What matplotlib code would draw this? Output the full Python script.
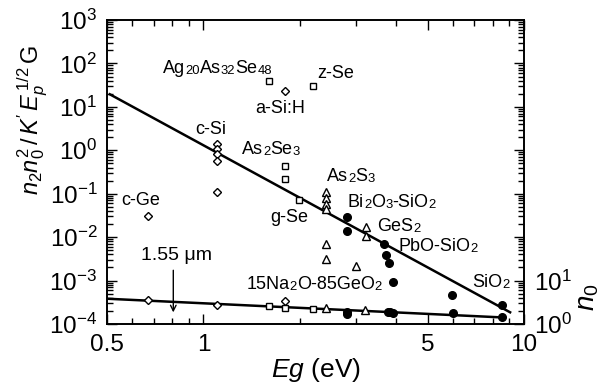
import re
import numpy as np
import matplotlib
matplotlib.use('Agg')
import matplotlib.pyplot as plt
from matplotlib.ticker import (LogLocator, NullFormatter, FixedLocator,
                               FixedFormatter, FuncFormatter)

# n2 n0^2 / K' Ep^1/2 G  (left axis)
diamond_eg = [0.67, 1.10, 1.10, 1.10, 1.10, 1.10, 1.80]
diamond_val = [0.031, 1.37, 1.05, 0.80, 0.57, 0.108, 23]
square_eg = [1.60, 1.80, 1.80, 1.99, 2.19]
square_val = [39, 0.44, 0.22, 0.072, 31]
triangle_eg = [2.41, 2.41, 2.41, 2.41, 2.41, 2.41, 3.00, 3.21, 3.21]
triangle_val = [0.11, 0.080, 0.058, 0.0445, 0.0070, 0.0031, 0.0022, 0.0169, 0.0106]
circle_eg = [2.81, 2.81, 3.67, 3.71, 3.80, 3.91, 5.97, 8.52]
circle_val = [0.0286, 0.0139, 0.0068, 0.0039, 0.0026, 0.00093, 0.00047, 0.00027]
fit_eg = [0.51, 9.05]
fit_val = [19.5, 1.86e-4]

# n0 (right axis)
n0_diamond_eg = [0.67, 1.10, 1.79]
n0_diamond = [3.66, 2.74, 3.44]
n0_square_eg = [1.60, 1.79, 2.19]
n0_square = [2.64, 2.30, 2.21]
n0_triangle_eg = [2.41, 3.19]
n0_triangle = [2.35, 2.10]
n0_circle_eg = [2.80, 2.80, 3.77, 3.82, 3.91, 5.99, 8.54]
n0_circle = [1.92, 1.70, 1.86, 1.86, 1.76, 1.82, 1.43]
n0_fit_eg = [0.5, 8.67]
n0_fit = [3.82, 1.41]

# material labels: (text, Eg, value) -- "_n" marks a small digit run
labels = [
    ('c-Ge', 0.553, 0.055),
    ('c-Si', 0.941, 2.37),
    ('Ag_20As_32Se_48', 0.748, 60),
    ('a-Si:H', 1.448, 7.2),
    ('z-Se', 2.26, 46),
    ('As_2Se_3', 1.32, 0.82),
    ('g-Se', 1.62, 0.0223),
    ('As_2S_3', 2.43, 0.196),
    ('Bi_2O_3-SiO_2', 2.82, 0.0494),
    ('GeS_2', 3.48, 0.0139),
    ('PbO-SiO_2', 4.05, 0.0048),
    ('SiO_2', 6.89, 0.00071),
    ('15Na_2O-85GeO_2', 1.36, 0.00064),
]

plt.rcParams['font.family'] = ['Liberation Sans', 'DejaVu Sans']
plt.rcParams['mathtext.fontset'] = 'custom'
plt.rcParams['mathtext.rm'] = 'Liberation Sans'
plt.rcParams['mathtext.it'] = 'Liberation Sans:italic'
plt.rcParams['axes.unicode_minus'] = False


def formula(ax, x, y, s, size=13):
    """write a chemical formula with smaller digits sitting on the baseline"""
    parts = re.split(r'_(\d+)', s)
    t = ax.text(x, y, parts[0], fontsize=size, va='baseline', ha='left')
    for i, p in enumerate(parts[1:], 1):
        if not p:
            continue
        fs = size * 0.72 if i % 2 else size
        t = ax.annotate(p, xy=(1, 0), xycoords=t, fontsize=fs, va='bottom', ha='left')


fig = plt.figure(figsize=(6.03, 3.89), dpi=100)
ax = fig.add_axes([107 / 603, 1 - 324 / 389, 417 / 603, 304 / 389])
ax.set_xscale('log')
ax.set_yscale('log')
ax.set_xlim(0.5, 10)
ax.set_ylim(1e-4, 1e3)

open_mk = dict(ls='none', mfc='white', mec='black', mew=1.0, zorder=3)
ax.plot(fit_eg, fit_val, color='black', lw=1.8, zorder=2)
ax.plot(diamond_eg, diamond_val, marker='D', ms=4.2, **open_mk)
ax.plot(square_eg, square_val, marker='s', ms=4.6, **open_mk)
ax.plot(triangle_eg, triangle_val, marker='^', ms=5.5, **open_mk)
ax.plot(circle_eg, circle_val, marker='o', ms=5.5, ls='none', color='black', zorder=3)

for s, x, y in labels:
    formula(ax, x, y, s)

ax.text(0.64, 0.0030, '1.55 \u03bcm', fontsize=14, va='baseline', ha='left')
ax.annotate('', xy=(0.805, 1.6e-4), xytext=(0.805, 2.0e-3),
            arrowprops=dict(arrowstyle='->', color='black', lw=1.0,
                            mutation_scale=10))

ax.xaxis.set_major_locator(FixedLocator([0.5, 1, 5, 10]))
ax.xaxis.set_major_formatter(FixedFormatter(['0.5', '1', '5', '10']))
ax.xaxis.set_minor_locator(FixedLocator([0.6, 0.7, 0.8, 0.9, 2, 3, 4, 6, 7, 8, 9]))
ax.xaxis.set_minor_formatter(NullFormatter())
ax.yaxis.set_major_locator(LogLocator(base=10, numticks=20))
ax.yaxis.set_minor_locator(LogLocator(base=10, subs=np.arange(2, 10), numticks=20))
ax.yaxis.set_minor_formatter(NullFormatter())

ax.tick_params(which='both', direction='in', top=True, right=False,
               labelsize=17.5, width=1.0)
ax.tick_params(which='major', length=7, pad=7)
ax.tick_params(which='minor', length=4)
for sp in ax.spines.values():
    sp.set_linewidth(1.2)

# right axis: n0
ax2 = ax.twinx()
ax2.set_yscale('log')
ax2.set_ylim(1, 1e7)
ax2.plot(n0_fit_eg, n0_fit, color='black', lw=1.8, zorder=2)
ax2.plot(n0_diamond_eg, n0_diamond, marker='D', ms=4.2, **open_mk)
ax2.plot(n0_square_eg, n0_square, marker='s', ms=4.6, **open_mk)
ax2.plot(n0_triangle_eg, n0_triangle, marker='^', ms=5.5, **open_mk)
ax2.plot(n0_circle_eg, n0_circle, marker='o', ms=5.5, ls='none', color='black', zorder=3)
ax2.yaxis.set_major_locator(LogLocator(base=10, numticks=20))
ax2.yaxis.set_minor_locator(LogLocator(base=10, subs=np.arange(2, 10), numticks=20))
ax2.yaxis.set_minor_formatter(NullFormatter())
ax2.yaxis.set_major_formatter(FuncFormatter(
    lambda v, pos: r'$\mathdefault{10^{%d}}$' % round(np.log10(v)) if v < 50 else ''))
ax2.tick_params(which='both', direction='in', labelsize=17.5, width=1.0)
ax2.tick_params(which='major', length=7, pad=7)
ax2.tick_params(which='minor', length=4)
for sp in ax2.spines.values():
    sp.set_linewidth(1.2)

ax.set_xlabel(r'$Eg$ (eV)', fontsize=19, labelpad=0)
fig.text(33 / 603, 1 - 120 / 389,
         r"$n_2n_0^2\,/\,K'\,E_p^{\,1/2}\,\mathrm{G}$",
         rotation=90, fontsize=17, ha='center', va='center')
fig.text(588 / 603, 1 - 297 / 389, r'$n_0$', rotation=90, fontsize=20,
         ha='center', va='center')

fig.savefig('out.png', dpi=100)
